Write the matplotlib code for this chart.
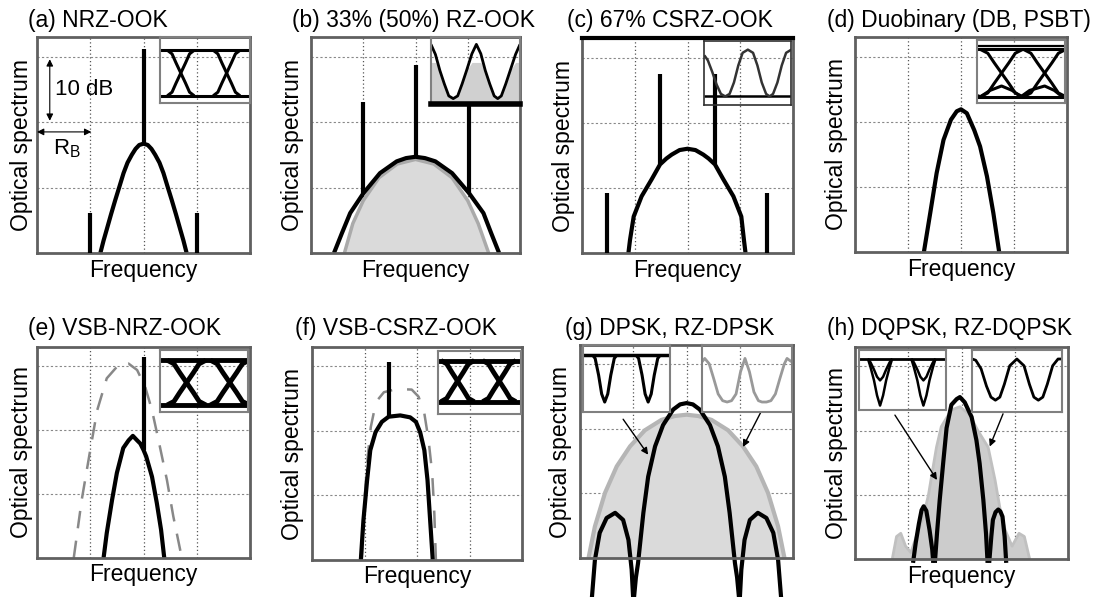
import numpy as np
import matplotlib.pyplot as plt

plt.rcParams['font.family'] = ['Liberation Sans', 'DejaVu Sans']
plt.rcParams['mathtext.fontset'] = 'custom'
plt.rcParams['mathtext.rm'] = 'Liberation Sans'
plt.rcParams['lines.solid_joinstyle'] = 'round'
plt.rcParams['lines.solid_capstyle'] = 'butt'

W, H = 1097, 597
fig = plt.figure(figsize=(W / 100, H / 100), dpi=100)

# panel boxes in pixels: left, top, right, bottom
boxes = [(37, 37, 250, 253), (311, 37, 520, 253), (582, 38, 793, 253), (855, 37, 1067, 252),
         (37, 347, 250, 558), (312, 347, 522, 560), (580, 345, 793, 558), (855, 347, 1068, 559)]
titles = ['(a) NRZ-OOK', '(b) 33% (50%) RZ-OOK', '(c) 67% CSRZ-OOK', '(d) Duobinary (DB, PSBT)',
          '(e) VSB-NRZ-OOK', '(f) VSB-CSRZ-OOK', '(g) DPSK, RZ-DPSK', '(h) DQPSK, RZ-DQPSK']
title_pos = [(28, 21), (292, 21), (567, 21), (827, 21), (28, 328), (295, 328), (565, 329), (827, 329)]
ylab_off = [15, 19, 19, 18, 15, 19, 19, 18]
show_freq = [True, True, True, True, True, True, False, True]

# ---- spectra: x in units of R_B, y in dB ----
a_x = [-0.81, -0.75, -0.69, -0.61, -0.53, -0.45, -0.375, -0.3, -0.22, -0.15, -0.08, 0.0,
       0.08, 0.15, 0.22, 0.3, 0.375, 0.45, 0.53, 0.61, 0.69, 0.75, 0.81]
a_db = [0, 1.9, 3.6, 5.9, 8.1, 10.2, 12.2, 13.8, 15.0, 15.9, 16.5, 16.7,
        16.5, 15.9, 15.0, 13.8, 12.2, 10.2, 8.1, 5.9, 3.6, 1.9, 0]
a_tone_x = [0.0, -1.0, 1.0]
a_tone_lo = [16.7, 0, 0]
a_tone_hi = [31.2, 6.1, 6.1]

b_x = [-1.56, -1.41, -1.25, -1.0, -0.68, -0.36, -0.18, 0.0, 0.18, 0.38, 0.7, 1.02, 1.3, 1.45, 1.6]
b_db = [0, 3.0, 6.1, 9.1, 12.2, 14.0, 14.5, 14.7, 14.5, 14.0, 12.2, 9.2, 6.1, 3.0, 0]
b50_x = [-1.36, -1.2, -1.0, -0.7, -0.35, 0.0, 0.35, 0.7, 1.0, 1.2, 1.4]
b50_db = [0, 4.5, 8.0, 11.5, 13.6, 14.3, 13.6, 11.5, 8.0, 4.5, 0]
b_tone_x = [-1.0, 0.0, 1.02]
b_tone_lo = [9.1, 14.7, 9.2]
b_tone_hi = [23.1, 28.7, 22.8]

c_x = [-1.12, -1.09, -1.02, -0.87, -0.68, -0.52, -0.4, -0.3, -0.15, 0.0,
       0.15, 0.3, 0.4, 0.52, 0.68, 0.87, 1.02, 1.07, 1.1]
c_db = [0, 2.0, 5.6, 8.7, 11.3, 13.6, 14.5, 15.1, 15.8, 16.0,
        15.8, 15.1, 14.5, 13.6, 11.3, 8.7, 5.6, 2.0, 0]
c_tone_x = [-0.52, 0.52, -1.53, 1.5]
c_tone_lo = [13.6, 13.6, 0, 0]
c_tone_hi = [27.4, 27.4, 9.2, 9.2]

d_x = [-0.70, -0.58, -0.46, -0.33, -0.19, -0.08, 0.0, 0.11, 0.25, 0.36, 0.49, 0.61, 0.72]
d_db = [0, 6.0, 12.1, 17.2, 20.3, 21.6, 21.9, 21.3, 18.7, 16.2, 11.6, 6.0, 0]

e_x = [-0.75, -0.69, -0.59, -0.5, -0.38, -0.28, -0.2, -0.12, -0.06, 0.0, 0.05, 0.16, 0.25, 0.33, 0.39]
e_db = [0, 3.9, 9.1, 13.3, 17.2, 18.4, 19.1, 18.4, 17.9, 16.9, 15.9, 12.7, 8.6, 4.4, 0]
e_filt_x = [-1.31, -1.16, -1.0, -0.87, -0.69, -0.5, -0.28, -0.12, 0.03, 0.16, 0.28, 0.44, 0.56, 0.72]
e_filt_db = [0, 9.1, 16.9, 23.1, 28.1, 29.9, 30.4, 29.4, 26.8, 23.1, 18.5, 12.2, 6.5, 0]
e_tone_x, e_tone_lo, e_tone_hi = [0.0], [16.9], [31.4]

f_x = [-1.07, -1.02, -0.95, -0.89, -0.79, -0.67, -0.54, -0.32, -0.13, -0.02, 0.06, 0.14, 0.2, 0.25, 0.3]
f_db = [0, 6.2, 12.4, 17.0, 19.8, 21.4, 22.2, 22.4, 22.1, 21.4, 19.8, 17.0, 12.4, 6.2, 0]
f_filt_x = [-1.05, -1.0, -0.94, -0.88, -0.78, -0.63, -0.38, -0.1, 0.03, 0.14, 0.22, 0.29, 0.33, 0.36]
f_filt_db = [0, 9.3, 15.9, 20.6, 24.5, 26.0, 26.5, 26.4, 25.3, 22.7, 18.6, 13.4, 7.2, 0]
f_tone_x, f_tone_lo, f_tone_hi = [-0.54], [22.2], [30.7]

g_rz_x = [-1.84, -1.72, -1.53, -1.31, -1.06, -0.78, -0.47, -0.22, 0.0, 0.22,
          0.47, 0.78, 1.06, 1.31, 1.53, 1.72, 1.84]
g_rz_db = [0, 4.9, 10.1, 14.2, 17.3, 19.8, 21.4, 22.0, 22.2, 22.0,
           21.4, 19.8, 17.3, 14.2, 10.1, 4.9, 0]
g_x = [-0.99, -0.95, -0.91, -0.81, -0.72, -0.59, -0.44, -0.25, -0.12, 0.0,
       0.12, 0.25, 0.44, 0.59, 0.72, 0.81, 0.91, 0.95, 0.99]
g_db = [-6.5, -3.0, -0.8, 7.0, 12.6, 17.3, 20.6, 23.0, 23.8, 24.0,
        23.8, 23.0, 20.6, 17.3, 12.6, 7.0, -0.8, -3.0, -6.5]
gl_x = [-1.78, -1.72, -1.63, -1.5, -1.34, -1.19, -1.09, -1.03, -1.0]
gl_db = [-6.5, -0.3, 3.9, 6.2, 7.0, 5.9, 2.8, -1.8, -6.5]
gr_x = [1.0, 1.03, 1.09, 1.19, 1.34, 1.5, 1.63, 1.72, 1.78]
gr_db = [-6.5, -1.8, 2.8, 5.9, 7.0, 6.2, 3.9, -0.3, -6.5]

h_x = [-0.5, -0.46, -0.41, -0.34, -0.28, -0.19, -0.09, -0.03, 0.06, 0.19, 0.28, 0.34, 0.41, 0.46, 0.49]
h_db = [-0.6, 4.0, 9.1, 15.3, 20.4, 24.0, 24.9, 25.2, 24.4, 22.1, 18.5, 14.9, 9.2, 4.0, -0.6]
hl_x = [-0.91, -0.86, -0.8, -0.75, -0.71, -0.66, -0.6, -0.55, -0.53]
hl_db = [-0.6, 2.5, 5.5, 7.6, 8.2, 7.5, 4.5, 1.5, -0.6]
hr_x = [0.52, 0.56, 0.59, 0.64, 0.69, 0.73, 0.77, 0.81, 0.84]
hr_db = [-0.6, 3.5, 6.1, 7.3, 7.7, 7.4, 6.6, 3.5, -0.6]
hg_x = [-1.3, -1.22, -1.14, -1.05, -0.95, -0.85, -0.72, -0.62, -0.56, -0.47, -0.38, -0.19, -0.03,
        0.15, 0.3, 0.5, 0.63, 0.72, 0.82, 0.95, 1.08, 1.18, 1.28]
hg_db = [0, 3.5, 4.0, 2.0, 1.0, 3.5, 6.5, 10.0, 13.0, 17.4, 20.6, 23.2, 23.7,
         22.5, 20.1, 17.4, 12.3, 8.0, 4.5, 2.0, 4.0, 3.5, 0]

# ---- eye diagrams (inset coords 0..1) ----
tr_s = [-1, -0.65, -0.35, 0, 0.35, 0.65, 1]          # NRZ transition shape
tr_f = [1, 0.92, 0.72, 0.5, 0.28, 0.08, 0]
rz_u = [0, 0.05, 0.1, 0.15, 0.2, 0.25, 0.3, 0.35, 0.4, 0.46, 0.51,
        0.56, 0.61, 0.66, 0.71, 0.75, 0.79, 0.84, 0.89, 0.95, 1.0]
rz_v = [0.89, 0.74, 0.5, 0.3, 0.12, 0.08, 0.12, 0.3, 0.5, 0.75, 0.89,
        0.75, 0.5, 0.3, 0.12, 0.08, 0.12, 0.3, 0.5, 0.74, 0.89]
cs_u = [0, 0.04, 0.09, 0.14, 0.19, 0.24, 0.29, 0.34, 0.39, 0.44, 0.5,
        0.56, 0.61, 0.66, 0.71, 0.75, 0.79, 0.84, 0.89, 0.94, 1.0]
cs_v = [0.78, 0.7, 0.52, 0.32, 0.17, 0.13, 0.17, 0.35, 0.62, 0.82, 0.87,
        0.82, 0.62, 0.35, 0.17, 0.13, 0.17, 0.35, 0.62, 0.82, 0.87]
db_u = [0, 0.04, 0.15, 0.28, 0.4, 0.5, 0.6, 0.77, 0.88, 0.97, 1.0]
db_v = [0.12, 0.1, 0.2, 0.27, 0.2, 0.1, 0.2, 0.27, 0.2, 0.1, 0.12]
dip_s = [-0.14, -0.11, -0.07, -0.035, 0, 0.035, 0.07, 0.11, 0.14]
dip_v = [0.85, 0.8, 0.55, 0.27, 0.15, 0.27, 0.55, 0.8, 0.85]
dq_deep = [0.86, 0.72, 0.5, 0.25, 0.08, 0.25, 0.5, 0.72, 0.86]
dq_shal = [0.86, 0.8, 0.68, 0.56, 0.5, 0.56, 0.68, 0.8, 0.86]
rzd_u = [0, 0.03, 0.08, 0.13, 0.18, 0.23, 0.28, 0.33, 0.38, 0.43, 0.48, 0.53,
         0.58, 0.63, 0.67, 0.72, 0.77, 0.82, 0.87, 0.92, 0.95, 1.0]
rzd_v = [0.75, 0.8, 0.72, 0.5, 0.27, 0.17, 0.15, 0.17, 0.27, 0.6, 0.8, 0.6,
         0.3, 0.17, 0.15, 0.15, 0.17, 0.27, 0.5, 0.72, 0.8, 0.75]
rzq_u = [0, 0.04, 0.1, 0.16, 0.21, 0.26, 0.31, 0.36, 0.42, 0.5, 0.58,
         0.64, 0.69, 0.74, 0.79, 0.84, 0.9, 0.96, 1.0]
rzq_v = [0.86, 0.84, 0.7, 0.42, 0.24, 0.19, 0.24, 0.45, 0.75, 0.86, 0.75,
         0.45, 0.24, 0.19, 0.24, 0.45, 0.75, 0.86, 0.86]

LW = 3.0
GRAY_FILL = '#dadada'
GRAY_EDGE = '#aaaaaa'


def make_axes(i):
    l, t, r, b = boxes[i]
    ax = fig.add_axes([l / W, 1 - b / H, (r - l) / W, (b - t) / H])
    ax.set_xlim(-2, 2)
    ax.set_ylim(0, 33)
    ax.set_xticks([])
    ax.set_yticks([])
    for xv in (-1, 0, 1):
        ax.axvline(xv, color='#555555', lw=0.9, ls=(0, (1, 2)), zorder=0)
    for yv in (10, 20, 30):
        ax.axhline(yv, color='#888888', lw=0.8, ls=(0, (2, 2)), zorder=0)
    for s in ax.spines.values():
        s.set_color('#606060')
        s.set_linewidth(2)
    fig.text(title_pos[i][0] / W, 1 - title_pos[i][1] / H, titles[i], fontsize=16.5,
             ha='left', va='center')
    ax.text(-ylab_off[i] / (r - l), 0.5, 'Optical spectrum', transform=ax.transAxes,
            rotation=90, ha='center', va='center', fontsize=16.5)
    if show_freq[i]:
        ax.text(0.5, -17 / (b - t), 'Frequency', transform=ax.transAxes,
                ha='center', va='center', fontsize=16.5)
    return ax


def inset(ax, bounds, edge='#808080', lw=1.5):
    ins = ax.inset_axes(bounds)
    ins.set_xlim(0, 1)
    ins.set_ylim(0, 1)
    ins.set_facecolor('none')
    ins.set_xticks([])
    ins.set_yticks([])
    for s in ins.spines.values():
        s.set_color(edge)
        s.set_linewidth(lw)
    return ins


def nrz_eye(ins, top, bot, centers, w, lw):
    ins.plot([0, 1], [top, top], color='k', lw=lw)
    ins.plot([0, 1], [bot, bot], color='k', lw=lw)
    s = np.array(tr_s)
    f = np.array(tr_f)
    for c in centers:
        ins.plot(c + w * s, bot + f * (top - bot), color='k', lw=lw)
        ins.plot(c + w * s, top - f * (top - bot), color='k', lw=lw)


def tones(ax, xs, lo, hi):
    ax.vlines(xs, lo, hi, color='k', lw=LW, zorder=4)


axs = [make_axes(i) for i in range(8)]

# (a)
ax = axs[0]
ax.plot(a_x, a_db, color='k', lw=LW)
tones(ax, a_tone_x, a_tone_lo, a_tone_hi)
ax.annotate('', xy=(-1.76, 29.6), xytext=(-1.76, 20.2),
            arrowprops=dict(arrowstyle='<|-|>', color='k', lw=0.8, mutation_scale=10, shrinkA=0, shrinkB=0))
ax.text(-1.67, 25.0, '10 dB', fontsize=16, ha='left', va='center')
ax.annotate('', xy=(-2.0, 18.5), xytext=(-0.98, 18.5),
            arrowprops=dict(arrowstyle='<|-|>', color='k', lw=0.8, mutation_scale=10, shrinkA=0, shrinkB=0))
ax.text(-1.7, 16.0, r'R$_\mathrm{B}$', fontsize=16, ha='left', va='center')
ins = inset(ax, [0.578, 0.694, 0.422, 0.306])
nrz_eye(ins, 0.80, 0.11, [0.23, 0.74], 0.15, 2.2)

# (b)
ax = axs[1]
ax.fill_between(b50_x, 0, b50_db, color=GRAY_FILL, lw=0)
ax.plot(b50_x, b50_db, color=GRAY_EDGE, lw=2.5)
ax.plot(b_x, b_db, color='k', lw=LW)
tones(ax, b_tone_x, b_tone_lo, b_tone_hi)
ins = inset(ax, [0.574, 0.69, 0.426, 0.31])
ins.spines['bottom'].set_color('k')
ins.spines['bottom'].set_linewidth(4)
ins.fill_between(rz_u, 0, np.minimum(rz_v, 0.62), color='#d0d0d0', lw=0)
ins.plot(rz_u, rz_v, color='k', lw=2)

# (c)
ax = axs[2]
ax.spines['top'].set_color('k')
ax.spines['top'].set_linewidth(3)
ax.plot(c_x, c_db, color='k', lw=LW)
tones(ax, c_tone_x, c_tone_lo, c_tone_hi)
ins = inset(ax, [0.58, 0.69, 0.412, 0.294], edge='#303030', lw=1.2)
ins.plot([0, 1], [0.13, 0.13], color='k', lw=1.8)
ins.plot(cs_u, cs_v, color='#333333', lw=1.8)

# (d)
ax = axs[3]
ax.plot(d_x, d_db, color='k', lw=LW)
ins = inset(ax, [0.575, 0.693, 0.415, 0.293])
ins.plot([0, 1], [0.91, 0.91], color='k', lw=1.6)
nrz_eye(ins, 0.85, 0.1, [0.28, 0.77], 0.24, 2.2)
ins.plot(db_u, db_v, color='k', lw=2.2)

# (e)
ax = axs[4]
ax.plot(e_filt_x, e_filt_db, color='#888888', lw=1.8, ls=(0, (7, 5)))
ax.plot(e_x, e_db, color='k', lw=LW)
tones(ax, e_tone_x, e_tone_lo, e_tone_hi)
ins = inset(ax, [0.578, 0.693, 0.414, 0.291])
nrz_eye(ins, 0.84, 0.11, [0.30, 0.79], 0.22, 3.5)

# (f)
ax = axs[5]
ax.plot(f_filt_x, f_filt_db, color='#888888', lw=1.8, ls=(0, (7, 6)))
ax.plot(f_x, f_db, color='k', lw=LW)
tones(ax, f_tone_x, f_tone_lo, f_tone_hi)
ins = inset(ax, [0.598, 0.6875, 0.397, 0.293])
nrz_eye(ins, 0.85, 0.19, [0.24, 0.74], 0.2, 3.5)

# (g)
ax = axs[6]
ax.fill_between(g_rz_x, 0, g_rz_db, color=GRAY_FILL, lw=0)
ax.plot(g_rz_x, g_rz_db, color='#b5b5b5', lw=3)
for xs, ys in ((g_x, g_db), (gl_x, gl_db), (gr_x, gr_db)):
    ax.plot(xs, ys, color='k', lw=LW, clip_on=False)
ins = inset(ax, [0.014, 0.685, 0.408, 0.315])
ins.plot([0, 1], [0.85, 0.85], color='k', lw=2.5)
for c in (0.25, 0.75):
    ins.plot(c + np.array(dip_s), dip_v, color='k', lw=2.2)
ins = inset(ax, [0.573, 0.685, 0.42, 0.315])
ins.plot(rzd_u, rzd_v, color='#999999', lw=2)
ax.annotate('', xy=(-0.72, 16.0), xytext=(-1.19, 21.5),
            arrowprops=dict(arrowstyle='-|>', color='k', lw=1, mutation_scale=10, shrinkA=0, shrinkB=0))
ax.annotate('', xy=(1.06, 17.2), xytext=(1.39, 22.5),
            arrowprops=dict(arrowstyle='-|>', color='k', lw=1, mutation_scale=10, shrinkA=0, shrinkB=0))

# (h)
ax = axs[7]
ax.fill_between(hg_x, 0, hg_db, color='#cccccc', lw=0)
ax.plot(hg_x, hg_db, color='#c0c0c0', lw=2)
for xs, ys in ((h_x, h_db), (hl_x, hl_db), (hr_x, hr_db)):
    ax.plot(xs, ys, color='k', lw=LW, clip_on=False)
ins = inset(ax, [0.02, 0.701, 0.407, 0.283])
ins.plot([0, 1], [0.86, 0.86], color='k', lw=2)
for c in (0.24, 0.74):
    ins.plot(c + np.array(dip_s), dq_deep, color='k', lw=1.8)
    ins.plot(c + np.array(dip_s), dq_shal, color='k', lw=1.8)
ins = inset(ax, [0.55, 0.694, 0.42, 0.29])
ins.plot(rzq_u, rzq_v, color='k', lw=2)
ax.annotate('', xy=(-0.46, 12.3), xytext=(-1.25, 22.4),
            arrowprops=dict(arrowstyle='-|>', color='k', lw=1, mutation_scale=10, shrinkA=0, shrinkB=0))
ax.annotate('', xy=(0.53, 17.5), xytext=(0.78, 22.6),
            arrowprops=dict(arrowstyle='-|>', color='k', lw=1, mutation_scale=10, shrinkA=0, shrinkB=0))

fig.savefig('out.png', dpi=100)
